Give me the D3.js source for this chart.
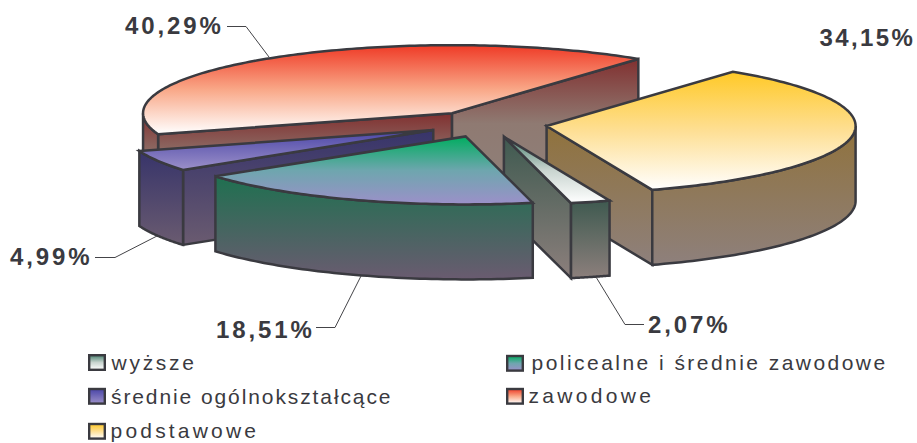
<!DOCTYPE html>
<html><head><meta charset="utf-8">
<script src="https://cdn.jsdelivr.net/npm/d3@7"></script>
<style>html,body{margin:0;padding:0;background:#fff}svg{display:block}</style>
</head><body><svg id="c" width="917" height="443"></svg>
<script>
const categories = ["wyższe","policealne i średnie zawodowe","średnie ogólnokształcące","zawodowe","podstawowe"];
const values = [2.07,18.51,4.99,40.29,34.15];
const valueLabels = ["2,07%","18,51%","4,99%","40,29%","34,15%"];
const topColors = [["#4a8270","#c8d4cf","#ffffff"],["#00ad5f","#6ea6ae","#9c90c9"],["#4a45a8","#736bb8","#9c90c9"],["#ef3a26","#f9a888","#ffffff"],["#ffc926","#fedf94","#ffffff"]];
const wallColors = [["#3f5a50","#8c7f7c"],["#1f7050","#6a5b70"],["#37346a","#6a5b70"],["#813030","#8f7a72","#8f8079"],["#90723c","#8e807c"]];
const paintOrder = [3,4,0,2,1];
const startDeg = 160, explode = 0.195;
const INK = "#3a3a40";

const svg = d3.select("#c");
const defs = svg.append("defs");
const cx = 487, cy = 124, rx = 309, ry = 68, depth = 75;
const sx = d3.scaleLinear().domain([-1,1]).range([cx-rx,cx+rx]);
const sy = d3.scaleLinear().domain([-1,1]).range([cy-ry,cy+ry]);
const rad = Math.PI/180;
const pie = d3.pie().sort(null).value(d=>d).startAngle(startDeg*rad).endAngle((startDeg+360)*rad);
const arcs = pie(values);

function grad(id,c){
  const g = defs.append("linearGradient").attr("id",id).attr("x1",0).attr("y1",0).attr("x2",0).attr("y2",1);
  c.forEach((col,k)=>g.append("stop").attr("offset",k/(c.length-1)).attr("stop-color",col));
}
categories.forEach((_,i)=>{grad("t"+i,topColors[i]);grad("w"+i,wallColors[i]);});

const line = d3.line().x(d=>d[0]).y(d=>d[1]);
const gPie = svg.append("g").attr("stroke",INK).attr("stroke-width",2.5).attr("stroke-linejoin","miter");

function sliceGeom(a){
  const mid=(a.startAngle+a.endAngle)/2;
  const ox=explode*Math.sin(mid), oy=-explode*Math.cos(mid);
  const p=t=>[sx(ox+Math.sin(t)),sy(oy-Math.cos(t))];
  return {apex:[sx(ox),sy(oy)],p};
}
function down(pts){return pts.slice().reverse().map(q=>[q[0],q[1]+depth]);}
paintOrder.forEach(i=>{
  const a=arcs[i], g=sliceGeom(a), s=a.startAngle, e=a.endAngle;
  const face=d=>gPie.append("path").attr("d",line(d)+"Z").attr("fill",`url(#w${i})`);
  if(Math.sin(s)<0){ face([g.apex,g.p(s),[g.p(s)[0],g.p(s)[1]+depth],[g.apex[0],g.apex[1]+depth]]); }
  if(Math.sin(e)>0){ face([g.apex,g.p(e),[g.p(e)[0],g.p(e)[1]+depth],[g.apex[0],g.apex[1]+depth]]); }
  // curved wall: the front half of the rim only
  const lo=Math.PI/2, hi=3*Math.PI/2;
  [[s,e],[s-2*Math.PI,e-2*Math.PI],[s+2*Math.PI,e+2*Math.PI]].forEach(([u,v])=>{
    const a0=Math.max(u,lo), a1=Math.min(v,hi);
    if(a1>a0){
      const pts=d3.range(0,61).map(k=>g.p(a0+(a1-a0)*k/60));
      face(pts.concat(down(pts)));
    }
  });
  const n=Math.max(8,Math.round((e-s)/rad));
  const rim=d3.range(0,n+1).map(k=>g.p(s+(e-s)*k/n));
  gPie.append("path").attr("d",line([g.apex].concat(rim))+"Z").attr("fill",`url(#t${i})`);
});

// leader lines
const leaders = [[[644,324.5],[625,324.5],[596,277]],[[316,327.5],[335,327.5],[361,276]],[[95,257.5],[115,257.5],[157,236]],[[227,26.5],[246,26.5],[269,57]]];
const gLead = svg.append("g").attr("fill","none").attr("stroke","#444448").attr("stroke-width",1);
leaders.forEach(l=>gLead.append("path").attr("d",line(l)));

// value labels
const labelPos=[[648,333],[216,338],[10,265],[125,34],[819.5,46]];
const labelSpacing=[2.9,2.9,2.9,2.9,2.4];
svg.append("g").selectAll("text").data(valueLabels).join("text")
  .attr("x",(d,i)=>labelPos[i][0]).attr("y",(d,i)=>labelPos[i][1])
  .attr("font-family","'Liberation Sans',Arial,sans-serif").attr("font-weight","bold")
  .attr("font-size",24).attr("letter-spacing",(d,i)=>labelSpacing[i]).attr("fill",INK).text(d=>d);

// legend
const swatchPos=[[89.2,355.2],[507.2,356],[89.2,389],[507.2,389],[89.2,424]];
const textPos=[[111.5,370],[531.6,370],[111,404],[528.5,403],[110.5,438]];
const textLen=[82.5,353.5,279.5,122.5,145.5];
const gLeg=svg.append("g");
gLeg.selectAll("rect").data(categories).join("rect")
  .attr("x",(d,i)=>swatchPos[i][0]).attr("y",(d,i)=>swatchPos[i][1]).attr("width",15.6).attr("height",14.6)
  .attr("fill",(d,i)=>`url(#t${i})`).attr("stroke",INK).attr("stroke-width",2.4);
gLeg.selectAll("text").data(categories).join("text")
  .attr("x",(d,i)=>textPos[i][0]).attr("y",(d,i)=>textPos[i][1])
  .attr("textLength",(d,i)=>textLen[i]).attr("lengthAdjust","spacing")
  .attr("font-family","'Liberation Sans',Arial,sans-serif").attr("font-size",21)
  .attr("fill",INK).text(d=>d);
</script></body></html>
